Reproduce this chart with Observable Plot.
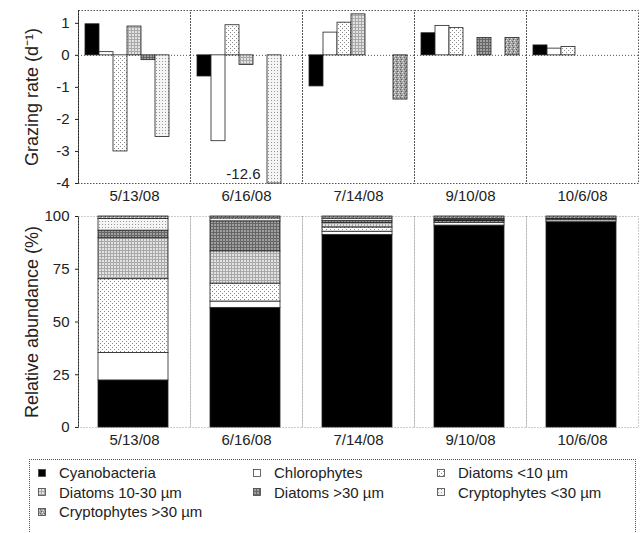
<!DOCTYPE html>
<html>
<head>
<meta charset="utf-8">
<script src="https://cdn.jsdelivr.net/npm/d3@7"></script>
<script src="https://cdn.jsdelivr.net/npm/@observablehq/plot@0.6"></script>
<style>
  body { margin: 0; background: #fff; font-family: "Liberation Sans", Arial, sans-serif; width: 641px; height: 533px; overflow: hidden; position: relative; }
  #topPanel, #bottomPanel { display: block; height: auto; }
  #topPanel svg, #bottomPanel svg { display: block; }
  #legend { position: absolute; left: 29px; top: 459px; width: 607px; height: 85px; border: 1px dotted #555; box-sizing: border-box;
            display: grid; grid-template-columns: 215px 184px 1fr; grid-auto-rows: 19.5px; padding: 3px 0 0 8px; font-size: 15px; color: #222; }
  .item { display: flex; align-items: center; white-space: nowrap; }
  .item svg { margin-right: 13px; flex: none; }
</style>
</head>
<body>
<svg width="0" height="0" style="position:absolute">
  <defs>
    <pattern id="pD10" width="4" height="4" patternUnits="userSpaceOnUse">
      <rect width="4" height="4" fill="#fff"/>
      <rect x="0" y="0" width="1" height="1" fill="#888"/>
      <rect x="2" y="2" width="1" height="1" fill="#888"/>
    </pattern>
    <pattern id="pD1030" width="3" height="3" patternUnits="userSpaceOnUse">
      <rect width="3" height="3" fill="#e2e2e2"/>
      <rect width="3" height="1" fill="#a8a8a8"/>
      <rect width="1" height="3" fill="#a8a8a8"/>
    </pattern>
    <pattern id="pD30" width="3" height="3" patternUnits="userSpaceOnUse">
      <rect width="3" height="3" fill="#a0a0a0"/>
      <rect width="3" height="1" fill="#666"/>
      <rect width="1" height="3" fill="#666"/>
    </pattern>
    <pattern id="pC30" width="3" height="3" patternUnits="userSpaceOnUse">
      <rect width="3" height="3" fill="#f4f4f4"/>
      <rect x="1" y="1" width="1" height="1" fill="#999"/>
    </pattern>
    <pattern id="pC30b" width="4" height="4" patternUnits="userSpaceOnUse">
      <rect width="4" height="4" fill="#a4a4a4"/>
      <rect x="0" y="0" width="1" height="1" fill="#eee"/>
      <rect x="2" y="1" width="1" height="1" fill="#666"/>
      <rect x="1" y="2" width="1" height="1" fill="#ddd"/>
      <rect x="3" y="3" width="1" height="1" fill="#555"/>
    </pattern>
  </defs>
</svg>
<div id="topPanel"></div>
<div id="bottomPanel"></div>
<div id="legend"></div>
<script>
// ---- data ----
const dates = ["5/13/08", "6/16/08", "7/14/08", "9/10/08", "10/6/08"];
const taxa = ["Cyanobacteria", "Chlorophytes", "Diatoms <10 µm", "Diatoms 10-30 µm", "Diatoms >30 µm", "Cryptophytes <30 µm", "Cryptophytes >30 µm"];

// grazing rates (d^-1) by taxon, one value per date (null = not measured)
const grazCyano   = [0.97, -0.66, -0.97, 0.69, 0.31];
const grazChloro  = [0.10, -2.68, 0.71, 0.92, 0.21];
const grazDiat10  = [-3.00, 0.94, 1.02, 0.85, 0.26];
const grazDiat1030 = [0.90, -0.30, 1.28, null, null];
const grazDiat30  = [-0.15, null, null, 0.54, null];
const grazCryp30  = [-2.55, -12.6, null, null, null];
const grazCryp30b = [null, null, -1.38, 0.54, null];

// relative abundance (%) by taxon, one value per date
const abCyano   = [22.3, 56.7, 91.3, 95.7, 97.3];
const abChloro  = [13.0, 3.0, 1.5, 1.3, 0.9];
const abDiat10  = [35.0, 8.5, 2.0, 0.7, 0.5];
const abDiat1030 = [19.4, 15.3, 2.2, 0.3, 0];
const abDiat30  = [3.6, 14.2, 0.8, 0.5, 0];
const abCryp30  = [5.5, 1.4, 1.2, 0.5, 0.3];
const abCryp30b = [1.2, 0.9, 1.0, 1.0, 1.0];

const yTicksTop = [1, 0, -1, -2, -3, -4];
const yTicksBottom = [0, 25, 50, 75, 100];

// ---- build tables ----
const grazing = [grazCyano, grazChloro, grazDiat10, grazDiat1030, grazDiat30, grazCryp30, grazCryp30b];
const abundance = [abCyano, abChloro, abDiat10, abDiat1030, abDiat30, abCryp30, abCryp30b];
const grazRows = dates.flatMap((d, i) => taxa.map((t, j) => ({date: d, taxon: t, v: grazing[j][i]}))).filter(r => r.v != null);
const abRows = dates.flatMap((d, i) => taxa.map((t, j) => ({date: d, taxon: t, v: abundance[j][i]}))).filter(r => r.v > 0);

const fills = ["#000", "#fff", "url(#pD10)", "url(#pD1030)", "url(#pD30)", "url(#pC30)", "url(#pC30b)"];
const font = '"Liberation Sans", Arial, sans-serif';

const topChart = Plot.plot({
  width: 641, height: 205,
  marginLeft: 76, marginRight: 2, marginTop: 10, marginBottom: 22,
  style: {fontFamily: font, fontSize: "15px", color: "#222", background: "#fff"},
  fx: {domain: dates, padding: 0, label: null, tickSize: 0, tickPadding: 7},
  x: {domain: taxa, paddingInner: 0, paddingOuter: 0.44, axis: null},
  y: {domain: [-4, 1.4], clamp: true, ticks: yTicksTop, tickFormat: d => String(d), tickSize: 3, line: true,
      label: "Grazing rate (d⁻¹)", labelAnchor: "center", labelArrow: "none", labelOffset: 53},
  color: {domain: taxa, range: fills},
  marks: [
    Plot.frame({stroke: "#555", strokeDasharray: "1.5,1.5"}),
    Plot.ruleY([0], {stroke: "#555", strokeDasharray: "1,2"}),
    Plot.barY(grazRows, {fx: "date", x: "taxon", y: "v", fill: "taxon", stroke: "#222", strokeWidth: 0.8}),
    Plot.text(grazRows.filter(r => r.v < -4), {fx: "date", x: "taxon", y: "v", text: d => String(d.v), textAnchor: "end", dx: -14, dy: -9, fontSize: 15, fill: "#222"})
  ]
});
topChart.querySelectorAll('g[aria-label="y-axis label"] text').forEach(t => t.setAttribute("font-size", "18"));
document.getElementById("topPanel").appendChild(topChart);

const bottomChart = Plot.plot({
  width: 641, height: 246,
  marginLeft: 76, marginRight: 2, marginTop: 11, marginBottom: 24,
  style: {fontFamily: font, fontSize: "15px", color: "#222", background: "#fff"},
  fx: {domain: dates, padding: 0, label: null, tickSize: 0, tickPadding: 7},
  y: {domain: [0, 100], ticks: yTicksBottom, tickSize: 3, line: true,
      label: "Relative abundance (%)", labelAnchor: "center", labelArrow: "none", labelOffset: 53},
  color: {domain: taxa, range: fills},
  marks: [
    Plot.frame({stroke: "#999", strokeDasharray: "1,2"}),
    Plot.barY(abRows, {fx: "date", y: "v", fill: "taxon", stroke: "#222", strokeWidth: 0.8, insetLeft: 20, insetRight: 22})
  ]
});
bottomChart.querySelectorAll('g[aria-label="y-axis label"] text').forEach(t => t.setAttribute("font-size", "18"));
document.getElementById("bottomPanel").appendChild(bottomChart);

// legend
const leg = document.getElementById("legend");
taxa.forEach((t, i) => {
  const div = document.createElement("div");
  div.className = "item";
  div.innerHTML = `<svg width="8" height="8"><rect x="0.5" y="0.5" width="7" height="7" fill="${fills[i]}" stroke="#444" stroke-width="0.8"/></svg><span>${t}</span>`;
  leg.appendChild(div);
});
</script>
</body>
</html>
